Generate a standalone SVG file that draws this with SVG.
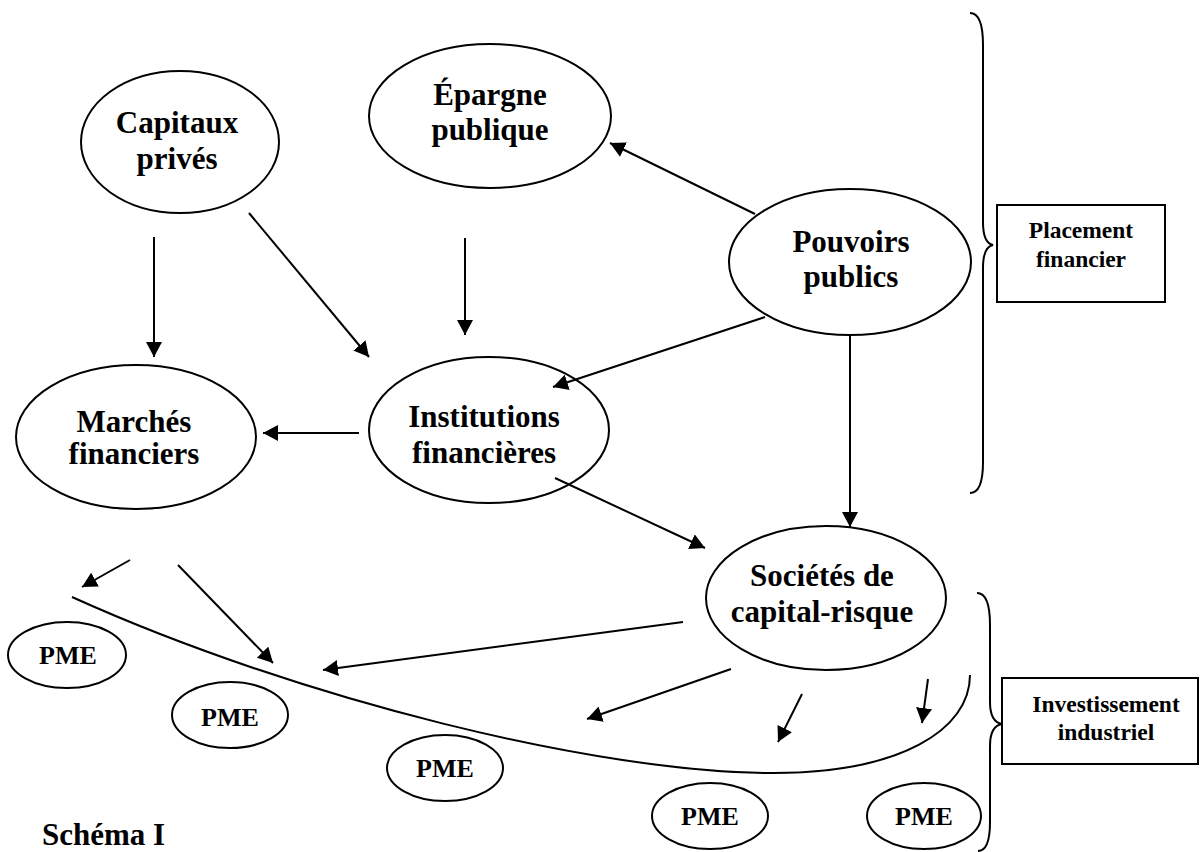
<svg xmlns="http://www.w3.org/2000/svg" width="1202" height="852" viewBox="0 0 1202 852">
<style>
.n{fill:#fff;stroke:#000;stroke-width:2}
.t{font-family:"Liberation Serif","Times New Roman",serif;font-weight:bold;font-size:31px;text-anchor:middle;fill:#000}
.p{font-family:"Liberation Serif","Times New Roman",serif;font-weight:bold;font-size:26px;text-anchor:middle;fill:#000}
.b{font-family:"Liberation Serif","Times New Roman",serif;font-weight:bold;font-size:23.5px;text-anchor:middle;fill:#000}
.c line{stroke:#000;stroke-width:2;marker-end:url(#ah)}
.l{fill:none;stroke:#000;stroke-width:2}
</style>
<defs>
<marker id="ah" markerUnits="userSpaceOnUse" markerWidth="16" markerHeight="16" refX="15" refY="8" orient="auto">
<path d="M0,0 L15,8 L0,16 z" fill="#000"/>
</marker>
</defs>
<rect width="1202" height="852" fill="#fff"/>

<g id="capitaux"><ellipse class="n" cx="180" cy="142" rx="99" ry="71"/><text class="t" x="177" y="133">Capitaux</text><text class="t" x="177" y="169">privés</text></g>
<g id="epargne"><ellipse class="n" cx="490" cy="116" rx="121" ry="72"/><text class="t" x="490" y="105">Épargne</text><text class="t" x="490" y="140">publique</text></g>
<g id="pouvoirs"><ellipse class="n" cx="850" cy="262" rx="121" ry="73"/><text class="t" x="851" y="252">Pouvoirs</text><text class="t" x="851" y="287">publics</text></g>
<g id="marches"><ellipse class="n" cx="136" cy="437" rx="120" ry="72"/><text class="t" x="134" y="432">Marchés</text><text class="t" x="134" y="464">financiers</text></g>
<g id="institutions"><ellipse class="n" cx="489" cy="430" rx="120" ry="73"/><text class="t" x="484" y="427">Institutions</text><text class="t" x="484" y="463">financières</text></g>
<g id="societes"><ellipse class="n" cx="826" cy="598" rx="120" ry="72"/><text class="t" x="822" y="586">Sociétés de</text><text class="t" x="822" y="622">capital-risque</text></g>

<g id="pme1"><ellipse class="n" cx="67" cy="655" rx="59" ry="33"/><text class="p" x="68" y="664">PME</text></g>
<g id="pme2"><ellipse class="n" cx="230" cy="715" rx="58" ry="33"/><text class="p" x="230" y="726">PME</text></g>
<g id="pme3"><ellipse class="n" cx="445" cy="768" rx="58" ry="33"/><text class="p" x="445" y="777">PME</text></g>
<g id="pme4"><ellipse class="n" cx="710" cy="816" rx="58" ry="33"/><text class="p" x="710" y="825">PME</text></g>
<g id="pme5"><ellipse class="n" cx="924" cy="816" rx="57" ry="33"/><text class="p" x="924" y="825">PME</text></g>

<g id="placement"><path class="l" d="M970,13 Q983,13 983,45 L983,222 Q983,243 993,245 Q983,247 983,268 L983,462 Q983,493 970,493"/><rect class="n" x="997" y="205" width="168" height="97"/><text class="b" x="1081" y="238">Placement</text><text class="b" x="1081" y="267">financier</text></g>
<g id="investissement"><path class="l" d="M977,593 Q990,593 990,625 L990,702 Q990,722 1002,724 Q990,726 990,746 L990,822 Q990,851 978,851"/><rect class="n" x="1002" y="678" width="196" height="86"/><text class="b" x="1106" y="712">Investissement</text><text class="b" x="1106" y="740">industriel</text></g>

<g id="connectors" class="c">
<path class="l" d="M72,597 C300,700 600,773 773,773 C900,773 970,730 970,675"/>
<line x1="154" y1="237" x2="154" y2="357"/>
<line x1="249" y1="213" x2="369" y2="357"/>
<line x1="359" y1="433" x2="263" y2="433"/>
<line x1="465" y1="238" x2="465" y2="335"/>
<line x1="755" y1="214" x2="610" y2="143"/>
<line x1="765" y1="317" x2="553" y2="387"/>
<line x1="850" y1="335" x2="850" y2="527"/>
<line x1="555" y1="478" x2="705" y2="548"/>
<line x1="130" y1="560" x2="82" y2="587"/>
<line x1="178" y1="565" x2="273" y2="663"/>
<line x1="683" y1="622" x2="323" y2="670"/>
<line x1="731" y1="669" x2="587" y2="719"/>
<line x1="802" y1="694" x2="778" y2="742"/>
<line x1="928" y1="679" x2="922" y2="723"/>
</g>

<text class="t" x="42" y="845" style="text-anchor:start">Schéma I</text>
</svg>
